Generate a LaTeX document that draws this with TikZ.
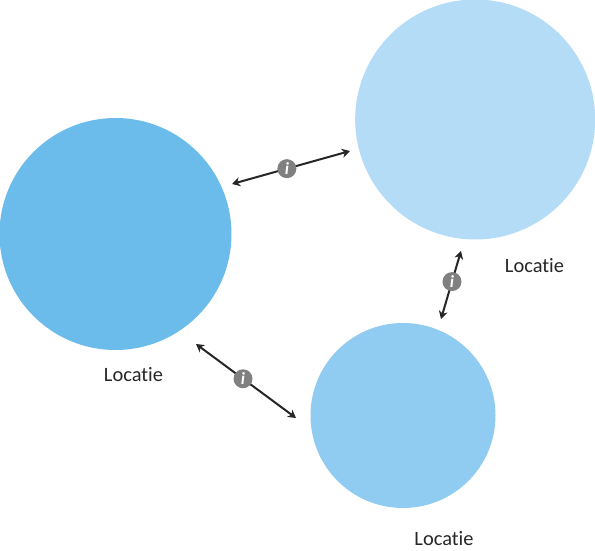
\documentclass[tikz,border=0pt]{standalone}
\usepackage{fontspec}
\setmainfont{Carlito}[Ligatures=NoCommon]
\usetikzlibrary{arrows.meta}
\definecolor{bolddonker}{HTML}{6BBBEB}
\definecolor{boldmidden}{HTML}{90CBF1}
\definecolor{boldlicht}{HTML}{B4DCF7}
\definecolor{infogrijs}{HTML}{808080}
\definecolor{pijlgrijs}{HTML}{262626}
\tikzset{
	locatie/.style={circle, inner sep=0pt, outer sep=0pt},
	label tekst/.style={inner sep=0pt, font=\fontsize{20.4}{24}\selectfont, text=black!85},
	infopijl/.style={draw=pijlgrijs, line width=2pt, {Stealth[length=8pt, width=9pt, inset=2.5pt]}-{Stealth[length=8pt, width=9pt, inset=2.5pt]}},
	infobol/.style={circle, fill=infogrijs, minimum size=19pt, inner sep=0pt, text=white, font=\fontsize{17}{17}\selectfont\bfseries\itshape},
}
\begin{document}
\begin{tikzpicture}[x=1pt, y=-1pt]
	\useasboundingbox (0,0) rectangle (595,551);

	% cirkels
	\node[locatie, fill=bolddonker, minimum size=232pt] (links) at (115.5,234) {};
	\node[locatie, fill=boldlicht, minimum size=240pt] (boven) at (475.2,119.5) {};
	\node[locatie, fill=boldmidden, minimum size=185pt] (onder) at (403,415.5) {};

	% labels
	\node[label tekst] (labellinks) at (133.5,374.5) {Locatie};
	\node[label tekst] (labelboven) at (534.5,265.5) {Locatie};
	\node[label tekst] (labelonder) at (444,538.5) {Locatie};

	% eindpunten
	\coordinate (a1) at (232,184);
	\coordinate (a2) at (350,151);
	\coordinate (b1) at (441,319);
	\coordinate (b2) at (461,251);
	\coordinate (c1) at (196,344);
	\coordinate (c2) at (296,418);

	% pijlen met info
	\draw[infopijl] (a1) -- node[pos=0.465, infobol] (infoa) {i} (a2);
	\draw[infopijl] (b1) -- node[pos=0.55, infobol] (infob) {i} (b2);
	\draw[infopijl] (c1) -- node[pos=0.47, infobol] (infoc) {i} (c2);
\end{tikzpicture}
\end{document}
